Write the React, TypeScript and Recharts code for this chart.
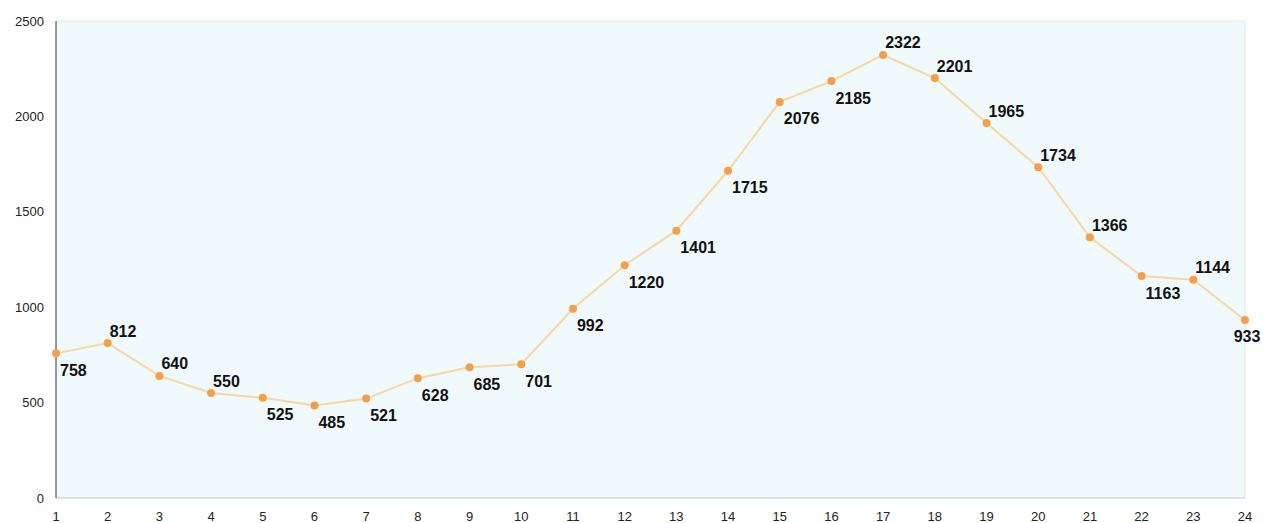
import { LineChart, Line, XAxis, YAxis, CartesianGrid, ReferenceLine } from "recharts"

const hours = ["1", "2", "3", "4", "5", "6", "7", "8", "9", "10", "11", "12", "13", "14", "15", "16", "17", "18", "19", "20", "21", "22", "23", "24"]
const counts = [758, 812, 640, 550, 525, 485, 521, 628, 685, 701, 992, 1220, 1401, 1715, 2076, 2185, 2322, 2201, 1965, 1734, 1366, 1163, 1144, 933]
const yTicks = [0, 500, 1000, 1500, 2000, 2500]

// where each value label sits relative to its point
const labelAbove = [false, true, true, true, false, false, false, false, false, false, false, false, false, false, false, false, true, true, true, true, true, false, true, false]

const data = hours.map((h, i) => ({ hour: h, count: counts[i] }))

const PointLabel = (props: any) => {
  const { x, y, value, index } = props
  const above = labelAbove[index]
  const last = index === counts.length - 1
  return (
    <text
      x={last ? x + 2 : x + (above ? 2 : 4)}
      y={above ? y - 12 : y + 17}
      textAnchor={last ? "middle" : "start"}
      dominantBaseline="central"
      fontFamily="Liberation Sans, Arial, sans-serif"
      fontWeight="bold"
      fontSize={16}
      fill="#111"
    >
      {value}
    </text>
  )
}

export default function App() {
  return (
    <div style={{ position: "absolute", left: 0, top: 0, background: "#fff" }}>
      <LineChart width={1263} height={523} data={data} margin={{ top: 21, right: 18, bottom: 0, left: 0 }}>
        <CartesianGrid horizontal={false} vertical={false} fill="#f0f9fc" />
        <ReferenceLine y={2500} stroke="#e2e6e8" />
        <ReferenceLine x="24" stroke="#e2e6e8" />
        <XAxis
          dataKey="hour"
          height={25}
          stroke="#c4c9cc"
          tickLine={false}
          tickSize={0}
          tickMargin={14}
          tick={{ fill: "#222", fontSize: 13, fontFamily: "Liberation Sans, Arial, sans-serif" }}
        />
        <YAxis
          width={56}
          domain={[0, 2500]}
          ticks={yTicks}
          stroke="#333"
          tickLine={false}
          tickSize={0}
          tickMargin={12}
          tick={{ fill: "#222", fontSize: 13, fontFamily: "Liberation Sans, Arial, sans-serif" }}
        />
        <Line
          dataKey="count"
          stroke="#f6d8a2"
          strokeWidth={2}
          dot={{ r: 4, fill: "#f3a04c", stroke: "none" }}
          activeDot={false}
          isAnimationActive={false}
          label={<PointLabel />}
        />
      </LineChart>
    </div>
  )
}
